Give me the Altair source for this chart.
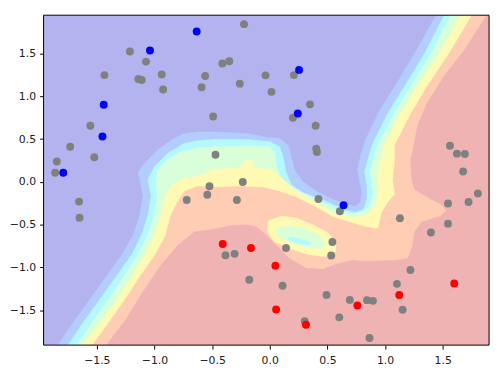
import altair as alt
import pandas as pd

# ---------------- axes ----------------
X_DOMAIN = [-1.962, 1.902]
Y_DOMAIN = [-1.91, 1.95]
TICKS = [-1.5, -1.0, -0.5, 0.0, 0.5, 1.0, 1.5]

# ---------------- contour bands (outline of region where p >= level) ----------------
LEVELS = [0.0, 0.15, 0.30, 0.45, 0.60, 0.75, 0.90]
BAND_COLORS = ["#b3b3ef", "#b3cdff", "#b3faff", "#d9ffd9", "#fffab3", "#ffcdb3", "#efb3b3"]

band_000 = [(-1.962, -1.91), (-1.962, 1.95), (1.902, 1.95), (1.902, -1.91)]

band_015 = [(-1.836, -1.91), (-1.714, -1.666), (-1.571, -1.396), (-1.428, -1.127), (-1.285, -0.858),
            (-1.185, -0.627), (-1.128, -0.397), (-1.099, -0.166), (-1.117, -0.031), (-1.142, 0.104),
            (-1.085, 0.219), (-0.971, 0.373), (-0.857, 0.488), (-0.742, 0.565), (-0.628, 0.584),
            (-0.485, 0.584), (-0.200, 0.565), (-0.028, 0.522), (0.086, 0.507), (0.158, 0.430),
            (0.186, 0.295), (0.214, 0.142), (0.286, 0.007), (0.400, -0.108), (0.543, -0.204),
            (0.657, -0.262), (0.743, -0.288), (0.786, -0.242), (0.800, -0.127), (0.777, 0.027),
            (0.760, 0.142), (0.786, 0.295), (0.829, 0.488), (0.943, 0.811), (1.086, 1.119),
            (1.257, 1.503), (1.443, 1.95), (1.902, 1.95), (1.902, -1.91)]

band_030 = [(-1.748, -1.91), (-1.628, -1.666), (-1.485, -1.396), (-1.342, -1.127), (-1.200, -0.858),
            (-1.114, -0.627), (-1.057, -0.397), (-1.028, -0.166), (-1.057, 0.027), (-0.999, 0.180),
            (-0.885, 0.334), (-0.742, 0.450), (-0.628, 0.480), (-0.485, 0.496), (-0.200, 0.496),
            (0.000, 0.468), (0.086, 0.411), (0.115, 0.295), (0.143, 0.104), (0.186, -0.031),
            (0.286, -0.127), (0.400, -0.181), (0.543, -0.262), (0.657, -0.328), (0.743, -0.358),
            (0.814, -0.319), (0.843, -0.204), (0.843, -0.051), (0.823, 0.119), (0.886, 0.427),
            (1.028, 0.811), (1.171, 1.119), (1.343, 1.503), (1.514, 1.95), (1.902, 1.95), (1.902, -1.91)]

band_045 = [(-1.671, -1.91), (-1.528, -1.626), (-1.385, -1.361), (-1.256, -1.089), (-1.142, -0.858),
            (-1.057, -0.627), (-0.999, -0.397), (-0.971, -0.166), (-0.985, -0.012), (-0.971, 0.142),
            (-0.885, 0.258), (-0.771, 0.353), (-0.628, 0.392), (-0.485, 0.411), (-0.200, 0.419),
            (0.000, 0.411), (0.043, 0.334), (0.057, 0.180), (0.100, 0.046), (0.201, -0.069),
            (0.314, -0.146), (0.458, -0.242), (0.600, -0.339), (0.715, -0.377), (0.800, -0.358),
            (0.871, -0.281), (0.900, -0.127), (0.871, 0.119), (0.940, 0.430), (1.086, 0.811),
            (1.229, 1.122), (1.403, 1.503), (1.572, 1.95), (1.902, 1.95), (1.902, -1.91)]

band_060 = [(-1.631, -1.91), (-1.457, -1.626), (-1.314, -1.361), (-1.185, -1.089), (-1.085, -0.858),
            (-0.999, -0.627), (-0.943, -0.397), (-0.900, -0.166), (-0.857, -0.051), (-0.771, 0.027),
            (-0.628, 0.065), (-0.483, 0.142), (-0.260, 0.165), (-0.200, 0.258), (-0.157, 0.258),
            (-0.140, 0.165), (0.032, 0.142), (0.143, -0.008), (0.229, -0.108), (0.372, -0.224),
            (0.543, -0.358), (0.715, -0.415), (0.829, -0.397), (0.914, -0.281), (0.943, -0.127),
            (0.931, 0.119), (0.999, 0.430), (1.137, 0.811), (1.283, 1.122), (1.471, 1.503),
            (1.657, 1.95), (1.902, 1.95), (1.902, -1.91)]

band_075 = [(-1.536, -1.91), (-1.382, -1.623), (-1.245, -1.358), (-1.117, -1.092), (-0.997, -0.861),
            (-0.903, -0.631), (-0.859, -0.400), (-0.800, -0.238), (-0.740, -0.112), (-0.628, -0.054),
            (-0.483, -0.066), (-0.260, -0.054), (-0.054, -0.066), (0.083, -0.112), (0.229, -0.181),
            (0.400, -0.296), (0.546, -0.411), (0.683, -0.469), (0.829, -0.527), (0.940, -0.550),
            (0.974, -0.354), (1.026, -0.238), (1.086, -0.146), (1.069, 0.027), (1.086, 0.258),
            (1.086, 0.430), (1.231, 0.811), (1.368, 1.122), (1.557, 1.503), (1.754, 1.95),
            (1.902, 1.95), (1.902, -1.91)]

band_090 = [(-1.416, -1.91), (-1.254, -1.623), (-1.117, -1.323), (-0.945, -0.977), (-0.800, -0.746),
            (-0.654, -0.585), (-0.516, -0.562), (-0.345, -0.516), (-0.200, -0.504), (-0.114, -0.527),
            (-0.028, -0.631), (0.083, -0.781), (0.169, -0.896), (0.314, -1.012), (0.460, -1.023),
            (0.597, -0.954), (0.717, -0.919), (0.829, -0.931), (1.086, -0.919), (1.197, -0.896),
            (1.240, -0.746), (1.257, -0.585), (1.317, -0.469), (1.488, -0.400), (1.531, -0.331),
            (1.488, -0.262), (1.403, -0.205), (1.257, -0.089), (1.231, 0.027), (1.222, 0.258),
            (1.240, 0.350), (1.283, 0.661), (1.368, 0.927), (1.514, 1.238), (1.686, 1.538),
            (1.883, 1.95), (1.902, 1.95), (1.902, -1.91)]

# local minimum inside the 0.75-0.90 band (drawn on top)
island_060 = [(-0.011, -0.458), (0.100, -0.400), (0.229, -0.423), (0.374, -0.504), (0.503, -0.596),
              (0.571, -0.700), (0.571, -0.815), (0.486, -0.873), (0.332, -0.850), (0.177, -0.781),
              (0.040, -0.700), (-0.020, -0.585)]
island_045 = [(0.057, -0.550), (0.171, -0.512), (0.314, -0.550), (0.428, -0.627), (0.486, -0.723),
              (0.443, -0.781), (0.314, -0.761), (0.171, -0.704), (0.072, -0.646)]
island_030 = [(0.158, -0.657), (0.201, -0.646), (0.286, -0.677), (0.357, -0.712), (0.343, -0.743),
              (0.257, -0.723), (0.171, -0.685)]

# ---------------- points ----------------
gray_x = [-0.223, -1.213, -1.074, -1.434, -1.140, -1.111, -0.937, -0.925, -0.560, -0.411, -0.351,
          -0.591, -0.260, -0.491, -1.556, -1.731, -1.522, -1.847, -1.862, -0.471, -0.523, -0.234,
          -0.037, 0.209, 0.015, 0.349, 0.201, 0.398, 0.403, 0.409, 1.563, 1.623, 1.692, 1.677,
          -1.654, -1.650, -0.720, -0.542, -0.285, -0.384, -0.305, -0.178, 0.422, 0.608, 1.129,
          1.805, 1.724, 1.546, 1.546, 1.398, 0.543, 0.533, 0.141, 0.111, 1.220, 1.103, 0.492,
          0.694, 0.843, 0.895, 1.152, 0.303, 0.603, 0.865]
gray_y = [1.845, 1.526, 1.407, 1.249, 1.203, 1.191, 1.257, 1.080, 1.238, 1.384, 1.411,
          1.107, 1.149, 0.765, 0.657, 0.411, 0.288, 0.238, 0.107, 0.318, -0.051, -0.002,
          1.246, 1.249, 1.053, 0.907, 0.750, 0.657, 0.388, 0.349, 0.422, 0.330, 0.326, 0.122,
          -0.231, -0.420, -0.212, -0.150, -0.212, -0.859, -0.842, -1.146, -0.201, -0.343, -0.426,
          -0.135, -0.235, -0.254, -0.489, -0.593, -0.704, -0.862, -0.773, -1.216, -1.031, -1.193, -1.323,
          -1.381, -1.384, -1.392, -1.496, -1.631, -1.585, -1.827]

blue_x = [-0.634, -1.039, -1.440, -1.451, -1.791, 0.254, 0.243, 0.640]
blue_y = [1.760, 1.537, 0.903, 0.531, 0.107, 1.310, 0.799, -0.273]

red_x = [-0.408, -0.163, 0.049, 0.055, 0.314, 0.760, 1.123, 1.600]
red_y = [-0.727, -0.773, -0.980, -1.493, -1.672, -1.446, -1.323, -1.188]

# ---------------- chart ----------------
xs = alt.Scale(domain=X_DOMAIN, nice=False, zero=False)
ys = alt.Scale(domain=Y_DOMAIN, nice=False, zero=False)

common_axis = dict(values=TICKS, format=".1f", title=None, grid=False, domain=False,
                   tickSize=4, tickColor="#000000", tickWidth=1,
                   labelFont="DejaVu Sans", labelFontSize=11, labelColor="#222222", zindex=1)
x_axis = alt.Axis(labelPadding=6, **common_axis)
y_axis = alt.Axis(labelPadding=4, **common_axis)


def poly_layer(pts, color):
    df = pd.DataFrame({"x": [p[0] for p in pts], "y": [p[1] for p in pts],
                       "i": list(range(len(pts)))})
    return alt.Chart(df).mark_line(
        interpolate="linear-closed", fill=color, stroke=color, strokeWidth=0.6, clip=True
    ).encode(
        x=alt.X("x:Q", scale=xs, axis=x_axis),
        y=alt.Y("y:Q", scale=ys, axis=y_axis),
        order=alt.Order("i:Q"),
    )


polys = [band_000, band_015, band_030, band_045, band_060, band_075, band_090]
layers = [poly_layer(p, c) for p, c in zip(polys, BAND_COLORS)]
layers.append(poly_layer(island_060, BAND_COLORS[4]))
layers.append(poly_layer(island_045, BAND_COLORS[3]))
layers.append(poly_layer(island_030, BAND_COLORS[2]))


def pts_layer(xv, yv, color):
    df = pd.DataFrame({"x": xv, "y": yv})
    return alt.Chart(df).mark_circle(size=64, opacity=1, color=color).encode(
        x=alt.X("x:Q", scale=xs, axis=x_axis),
        y=alt.Y("y:Q", scale=ys, axis=y_axis),
    )


layers.append(pts_layer(gray_x, gray_y, "#808080"))
layers.append(pts_layer(blue_x, blue_y, "#0000ff"))
layers.append(pts_layer(red_x, red_y, "#ff0000"))

frame_df = pd.DataFrame({"x0": [X_DOMAIN[0]], "x1": [X_DOMAIN[1]],
                         "y0": [Y_DOMAIN[0]], "y1": [Y_DOMAIN[1]]})
frame = alt.Chart(frame_df).mark_rect(filled=False, stroke="#000000", strokeWidth=1).encode(
    x=alt.X("x0:Q", scale=xs, axis=x_axis), x2="x1:Q",
    y=alt.Y("y0:Q", scale=ys, axis=y_axis), y2="y1:Q",
)
layers.append(frame)

chart = alt.layer(*layers).properties(
    width=451, height=334,
    autosize=alt.AutoSizeParams(type="none"),
    padding={"left": 36, "top": 5, "right": 5, "bottom": 30},
).configure_view(stroke="transparent")

chart.save("out.html", embed_options={"renderer": "svg", "actions": False})
